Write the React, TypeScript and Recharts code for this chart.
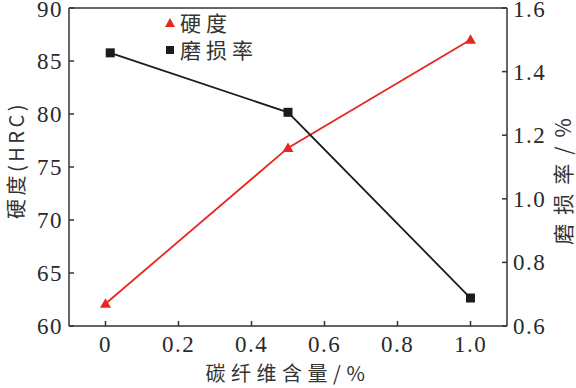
import React from 'react';
import { LineChart, Line, XAxis, YAxis, ReferenceLine } from 'recharts';

const hardnessX = [0, 0.5, 1.0];
const hardnessValues = [62.1, 76.8, 87.0];
const wearX = [0.013, 0.5, 1.0];
const wearValues = [1.459, 1.272, 0.688];
const xTicks = [0, 0.2, 0.4, 0.6, 0.8, 1.0];
const leftTicks = [60, 65, 70, 75, 80, 85, 90];
const rightTicks = [0.6, 0.8, 1.0, 1.2, 1.4, 1.6];
const seriesNames = ['硬度', '磨损率'];
const xTitle = '碳纤维含量/%';
const leftTitle = '硬度(HRC)';
const rightTitle = '磨损率/%';

const hardnessData = hardnessX.map((x, i) => ({ x, hardness: hardnessValues[i] }));
const wearData = wearX.map((x, i) => ({ x, wear: wearValues[i] }));

const RED = '#e8281e';
const BLACK = '#1c1c1c';
const AXIS = '#333333';
const SERIF = "'Liberation Serif', 'Times New Roman', serif";
const CJK = "'Noto Sans CJK SC', sans-serif";

const Triangle = (props: any) => {
  const { cx, cy } = props;
  if (cx == null || cy == null) return null;
  return <path d={`M${cx},${cy - 5.5} L${cx + 5.5},${cy + 4} L${cx - 5.5},${cy + 4} Z`} fill={RED} />;
};

const Square = (props: any) => {
  const { cx, cy } = props;
  if (cx == null || cy == null) return null;
  return <rect x={cx - 4.5} y={cy - 4.5} width={9} height={9} fill={BLACK} />;
};

const makeTick = (anchor: 'start' | 'middle' | 'end', dy: number, fmt: (v: number) => string) => (props: any) => {
  const { x, y, payload } = props;
  return (
    <text
      x={x}
      y={y}
      dy={dy}
      textAnchor={anchor}
      style={{ fontFamily: SERIF, fontSize: 23, letterSpacing: 1.5 }}
      fill="#2a2a2a"
    >
      {fmt(payload.value)}
    </text>
  );
};

const fmtX = (v: number) => (v === 0 ? '0' : v.toFixed(1));
const fmtL = (v: number) => String(v);
const fmtR = (v: number) => v.toFixed(1);

const XTick = makeTick('middle', 16, fmtX);
const LTick = makeTick('end', 8, fmtL);
const RTick = makeTick('start', 8, fmtR);

const titleStyle = (size: number, spacing: number) => ({ fontFamily: CJK, fontSize: size, letterSpacing: spacing });

export default function App() {
  return (
    <div style={{ position: 'absolute', left: 0, top: 0, width: 576, height: 388, background: '#fff' }}>
      <LineChart width={576} height={388} margin={{ top: 8, right: 0, bottom: 0, left: 0 }}>
        <XAxis
          type="number"
          dataKey="x"
          domain={[-0.1, 1.1]}
          ticks={xTicks}
          allowDataOverflow
          height={62}
          stroke={AXIS}
          strokeWidth={1.5}
          tickSize={-5}
          tickMargin={15}
          tick={XTick}
          label={(p: any) => (
            <text x={288} y={381} textAnchor="middle" style={titleStyle(20, 5.5)} fill="#333">
              {xTitle}
            </text>
          )}
        />
        <YAxis
          yAxisId="left"
          orientation="left"
          domain={[60, 90]}
          ticks={leftTicks}
          width={69}
          stroke={AXIS}
          strokeWidth={1.5}
          tickSize={-5}
          tickMargin={11}
          tick={LTick}
          label={(p: any) => (
            <text
              x={15}
              y={160}
              transform="rotate(-90 15 160)"
              textAnchor="middle"
              dominantBaseline="central"
              style={titleStyle(20, 3.5)}
              fill="#333"
            >
              {leftTitle}
            </text>
          )}
        />
        <YAxis
          yAxisId="right"
          orientation="right"
          domain={[0.6, 1.6]}
          ticks={rightTicks}
          width={69}
          stroke={AXIS}
          strokeWidth={1.5}
          tickSize={-5}
          tickMargin={11}
          tick={RTick}
          label={(p: any) => (
            <text
              x={562}
              y={177}
              transform="rotate(-90 562 177)"
              textAnchor="middle"
              dominantBaseline="central"
              style={titleStyle(21, 9)}
              fill="#333"
            >
              {rightTitle}
            </text>
          )}
        />
        <ReferenceLine yAxisId="left" y={90} stroke={AXIS} strokeWidth={1.5} />
        <Line
          yAxisId="left"
          data={hardnessData}
          dataKey="hardness"
          name={seriesNames[0]}
          stroke={RED}
          strokeWidth={1.8}
          dot={<Triangle />}
          activeDot={false}
          isAnimationActive={false}
        />
        <Line
          yAxisId="right"
          data={wearData}
          dataKey="wear"
          name={seriesNames[1]}
          stroke={BLACK}
          strokeWidth={1.8}
          dot={<Square />}
          activeDot={false}
          isAnimationActive={false}
        />
      </LineChart>
      <div
        style={{
          position: 'absolute',
          left: 163,
          top: 12,
          fontFamily: CJK,
          fontSize: 21,
          color: '#333',
          lineHeight: '21px',
          display: 'flex',
          alignItems: 'center',
          height: 21,
        }}
      >
        <svg width={14} height={14} style={{ marginRight: 3 }}>
          <path d="M7,2 L12,11 L2,11 Z" fill={RED} />
        </svg>
        <span style={{ letterSpacing: 5 }}>{seriesNames[0]}</span>
      </div>
      <div
        style={{
          position: 'absolute',
          left: 163,
          top: 39,
          fontFamily: CJK,
          fontSize: 21,
          color: '#333',
          lineHeight: '21px',
          display: 'flex',
          alignItems: 'center',
          height: 21,
        }}
      >
        <svg width={14} height={14} style={{ marginRight: 3 }}>
          <rect x={3} y={3} width={8} height={8} fill={BLACK} />
        </svg>
        <span style={{ letterSpacing: 5 }}>{seriesNames[1]}</span>
      </div>
    </div>
  );
}
